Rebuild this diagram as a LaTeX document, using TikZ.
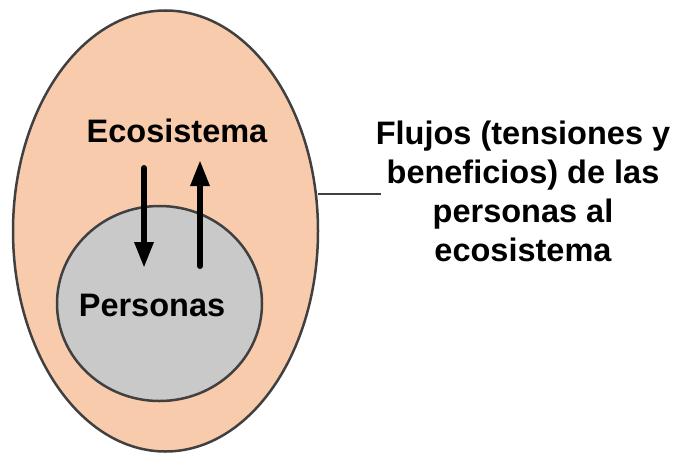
\documentclass[tikz,border=0pt]{standalone}
\usepackage{fontspec}
\setmainfont{Liberation Sans}
\usetikzlibrary{arrows.meta,shapes.geometric}
\definecolor{peach}{HTML}{F8CBAD}
\definecolor{grayfill}{HTML}{C9C9C9}
\definecolor{edge}{HTML}{404040}
\begin{document}
\begin{tikzpicture}[x=1pt,y=-1pt,
  shapeline/.style={draw=edge,line width=2.5pt},
  flow/.style={line width=6pt,line cap=round,-{Triangle[length=26pt,width=18pt]}},
  lbl/.style={font=\fontsize{32.5}{39}\selectfont\bfseries,align=center,inner sep=0pt}]
\useasboundingbox (0,0) rectangle (676,452);
\begin{scope}
\clip (0,0) rectangle (676,452);
\fill[peach] (165.5,231) ellipse [x radius=152.5,y radius=220.5];
\draw[shapeline] (165.5,231) ellipse [x radius=152.5,y radius=220.5];
\end{scope}
\node[shapeline,fill=grayfill,ellipse,minimum width=205pt,minimum height=195pt,inner sep=0pt] (per) at (159.5,303.5) {};
\coordinate (eco) at (318,194);
\node[lbl] (ecot) at (177,131) {Ecosistema};
\node[lbl] (pert) at (152,305) {Personas};
\node[lbl] (flu) at (523,191) {Flujos (tensiones y\\beneficios) de las\\personas al\\ecosistema};
\coordinate (d1) at (144,168);
\coordinate (d2) at (144,268);
\coordinate (u1) at (200,266);
\coordinate (u2) at (200,160);
\draw[flow] (d1) -- (d2);
\draw[flow] (u1) -- (u2);
\coordinate (lineend) at (381,194);
\draw[draw=edge,line width=2.5pt] (eco) -- (lineend);
\end{tikzpicture}
\end{document}
